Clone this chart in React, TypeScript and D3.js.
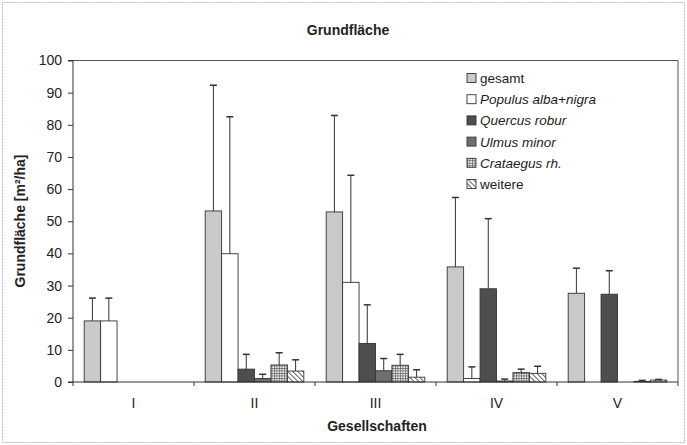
import React, { useEffect, useRef } from "react";
import * as d3 from "d3";

const categories = ["I", "II", "III", "IV", "V"];
const seriesNames = [
  "gesamt",
  "Populus alba+nigra",
  "Quercus robur",
  "Ulmus minor",
  "Crataegus rh.",
  "weitere",
];
const italicSeries = [false, true, true, true, true, false];

// mean values per Gesellschaft
const gesamt = [19, 53.2, 52.9, 35.8, 27.6];
const populus = [19, 39.9, 31.0, 1.1, 0];
const quercus = [0, 4.0, 12.0, 29.0, 27.3];
const ulmus = [0, 1.1, 3.5, 0.3, 0];
const crataegus = [0, 5.3, 5.2, 2.9, 0.2];
const weitere = [0, 3.4, 1.5, 2.7, 0.6];

// standard deviations (upper error bars)
const gesamtSd = [7.1, 39.1, 30.0, 21.6, 7.8];
const populusSd = [7.1, 42.6, 33.3, 3.6, 0];
const quercusSd = [0, 4.6, 12.0, 21.8, 7.3];
const ulmusSd = [0, 1.3, 3.8, 0.6, 0];
const crataegusSd = [0, 3.8, 3.4, 1.1, 0.3];
const weitereSd = [0, 3.5, 2.3, 2.2, 0.2];

const yTicks = [0, 10, 20, 30, 40, 50, 60, 70, 80, 90, 100];

const seriesValues = [gesamt, populus, quercus, ulmus, crataegus, weitere];
const seriesSd = [gesamtSd, populusSd, quercusSd, ulmusSd, crataegusSd, weitereSd];
const fills = ["#c9c9c9", "#ffffff", "#4e4e4e", "#6f6f6f", "url(#grid)", "url(#hatch)"];

function App() {
  const ref = useRef<SVGSVGElement>(null);

  useEffect(() => {
    const width = 687;
    const height = 445;
    const margin = { top: 60.5, right: 9, bottom: 63, left: 73 };
    const innerW = width - margin.left - margin.right;
    const innerH = height - margin.top - margin.bottom;
    const font = "'Liberation Sans', Arial, sans-serif";
    const ink = "#222";

    const svg = d3.select(ref.current);
    svg.selectAll("*").remove();

    const defs = svg.append("defs");
    const grid = defs
      .append("pattern")
      .attr("id", "grid")
      .attr("patternUnits", "userSpaceOnUse")
      .attr("width", 2.5)
      .attr("height", 2.5);
    grid.append("rect").attr("width", 2.5).attr("height", 2.5).attr("fill", "#f4f4f4");
    grid
      .append("path")
      .attr("d", "M0,0.5H2.5M0.5,0V2.5")
      .attr("stroke", "#666")
      .attr("stroke-width", 0.8);

    const hatch = defs
      .append("pattern")
      .attr("id", "hatch")
      .attr("patternUnits", "userSpaceOnUse")
      .attr("width", 3.5)
      .attr("height", 3.5)
      .attr("patternTransform", "rotate(-45)");
    hatch.append("rect").attr("width", 3.5).attr("height", 3.5).attr("fill", "#fff");
    hatch
      .append("line")
      .attr("x1", 0)
      .attr("y1", 0)
      .attr("x2", 0)
      .attr("y2", 3.5)
      .attr("stroke", "#444")
      .attr("stroke-width", 1.6);

    // outer frame
    svg
      .append("rect")
      .attr("x", 2.5)
      .attr("y", 2.5)
      .attr("width", width - 5)
      .attr("height", height - 5)
      .attr("fill", "none")
      .attr("stroke", "#bbb")
      .attr("stroke-dasharray", "2,1");

    svg
      .append("text")
      .attr("x", 348)
      .attr("y", 35)
      .attr("text-anchor", "middle")
      .attr("font-family", font)
      .attr("font-weight", "bold")
      .attr("font-size", 14)
      .attr("fill", ink)
      .text("Grundfläche");

    const g = svg.append("g").attr("transform", `translate(${margin.left},${margin.top})`);

    const x0 = d3.scaleBand().domain(categories).range([0, innerW]).padding(0);
    const x1 = d3
      .scaleBand()
      .domain(seriesNames)
      .range([0, x0.bandwidth()])
      .paddingInner(0)
      .paddingOuter(0.68);
    const y = d3.scaleLinear().domain([0, 100]).range([innerH, 0]);

    // plot frame (top and right)
    g.append("path")
      .attr("d", `M0,0H${innerW}V${innerH}`)
      .attr("fill", "none")
      .attr("stroke", "#555")
      .attr("stroke-width", 1);

    const groups = g
      .selectAll(".grp")
      .data(categories)
      .enter()
      .append("g")
      .attr("transform", (d) => `translate(${x0(d)},0)`);

    seriesNames.forEach((name, si) => {
      groups
        .filter((c) => seriesValues[si][categories.indexOf(c as string)] > 0)
        .append("rect")
        .attr("x", x1(name)!)
        .attr("width", x1.bandwidth())
        .attr("y", (c) => y(seriesValues[si][categories.indexOf(c as string)]))
        .attr("height", (c) => innerH - y(seriesValues[si][categories.indexOf(c as string)]))
        .attr("fill", fills[si])
        .attr("stroke", "#333")
        .attr("stroke-width", 0.9);
    });

    seriesNames.forEach((name, si) => {
      const cx = x1(name)! + x1.bandwidth() / 2;
      const top = (c: string) => {
        const i = categories.indexOf(c);
        return y(seriesValues[si][i] + seriesSd[si][i]);
      };
      const eb = groups
        .filter((c) => seriesSd[si][categories.indexOf(c as string)] > 0)
        .append("g")
        .attr("stroke", "#333")
        .attr("stroke-width", 1);
      eb.append("line")
        .attr("x1", cx)
        .attr("x2", cx)
        .attr("y1", (c) => y(seriesValues[si][categories.indexOf(c as string)]))
        .attr("y2", (c) => top(c as string));
      eb.append("line")
        .attr("x1", cx - 3.5)
        .attr("x2", cx + 3.5)
        .attr("y1", (c) => top(c as string))
        .attr("y2", (c) => top(c as string))
        .attr("stroke-width", 1.5);
    });

    // y axis
    const yAxis = g
      .append("g")
      .call(d3.axisLeft(y).tickValues(yTicks).tickSize(5).tickPadding(6));
    yAxis.select(".domain").attr("stroke", "#333").attr("d", `M-5,${innerH}H0V0H-5`);
    yAxis.selectAll("line").attr("stroke", "#333");
    yAxis
      .selectAll("text")
      .attr("font-family", font)
      .attr("font-size", 14)
      .attr("fill", ink);

    // x axis
    const boundaries = categories.map((c) => x0(c)!).concat([innerW]);
    const xg = g.append("g").attr("transform", `translate(0,${innerH})`);
    xg.append("line")
      .attr("x1", 0)
      .attr("x2", innerW)
      .attr("stroke", "#333")
      .attr("stroke-width", 1);
    xg.selectAll(".tk")
      .data(boundaries)
      .enter()
      .append("line")
      .attr("x1", (d) => d)
      .attr("x2", (d) => d)
      .attr("y1", 0)
      .attr("y2", 4)
      .attr("stroke", "#333");
    xg.selectAll(".lbl")
      .data(categories)
      .enter()
      .append("text")
      .attr("x", (d) => x0(d)! + x0.bandwidth() / 2)
      .attr("y", 25.5)
      .attr("text-anchor", "middle")
      .attr("font-family", font)
      .attr("font-size", 14)
      .attr("fill", ink)
      .text((d) => d);

    svg
      .append("text")
      .attr("x", 377)
      .attr("y", 431)
      .attr("text-anchor", "middle")
      .attr("font-family", font)
      .attr("font-weight", "bold")
      .attr("font-size", 14)
      .attr("fill", ink)
      .text("Gesellschaften");

    svg
      .append("text")
      .attr("transform", "translate(25,221) rotate(-90)")
      .attr("text-anchor", "middle")
      .attr("font-family", font)
      .attr("font-weight", "bold")
      .attr("font-size", 14)
      .attr("fill", ink)
      .text("Grundfläche [m²/ha]");

    // legend
    const legend = svg
      .selectAll(".leg")
      .data(seriesNames)
      .enter()
      .append("g")
      .attr("transform", (_, i) => `translate(467,${78 + i * 21.2})`);
    legend
      .append("rect")
      .attr("x", 0)
      .attr("y", -4.5)
      .attr("width", 9)
      .attr("height", 9)
      .attr("fill", (_, i) => fills[i])
      .attr("stroke", "#333")
      .attr("stroke-width", 0.9);
    legend
      .append("text")
      .attr("x", 13)
      .attr("y", 5)
      .attr("font-family", font)
      .attr("font-size", 13.5)
      .attr("font-style", (_, i) => (italicSeries[i] ? "italic" : "normal"))
      .attr("fill", ink)
      .text((d) => d);
  }, []);

  return (
    <svg
      ref={ref}
      width={687}
      height={445}
      style={{ position: "absolute", left: 0, top: 0, background: "#fff" }}
    />
  );
}

export default App;
